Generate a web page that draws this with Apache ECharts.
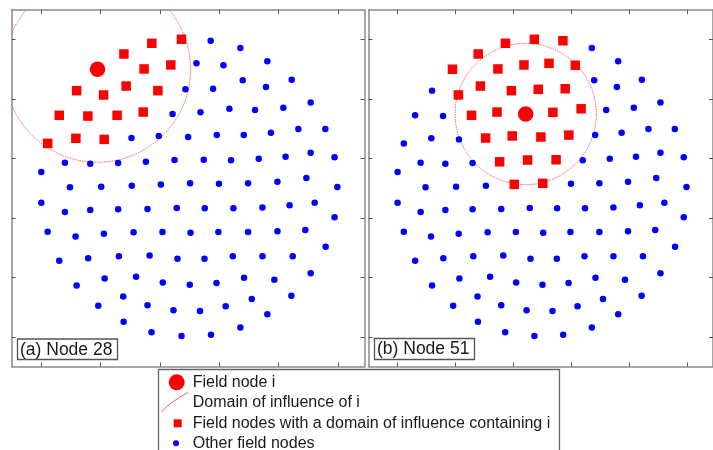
<!DOCTYPE html>
<html>
<head>
<meta charset="utf-8">
<script src="https://cdn.jsdelivr.net/npm/echarts@6/dist/echarts.min.js"></script>
<style>
html,body{margin:0;padding:0;background:#fff;}
#chart{width:713px;height:450px;}
</style>
</head>
<body>
<div id="chart"></div>
<script>
// ---- Node coordinates (same node set in both panels) ----
const nodeX = [
 -0.620,-0.054,-0.254,-0.442,-0.126,-0.306,-0.761,-0.579,-0.427,-0.213,
 -0.878,-0.685,-0.488,-0.312,-0.956,-0.766,-0.575,-0.114, 0.143, 0.343,
  0.047, 0.229, 0.525, 0.359, 0.689,-0.027, 0.159, 0.516, 0.817, 0.269,
  0.442, 0.633, 0.074, 0.734, 0.916,-0.391,-0.207,-0.009, 0.184, 0.366,
  0.549, 0.817, 0.978,-0.999,-0.840,-0.669,-0.481,-0.294,-0.101, 0.096,
  0.280, 0.467, 0.648, 0.788, 0.997,-0.806,-0.595,-0.389,-0.193, 0.004,
  0.199, 0.395, 0.593,-0.999,-0.840,-0.669,-0.481,-0.283,-0.086, 0.103,
  0.296, 0.492, 0.675, 0.844, 0.978,-0.956,-0.768,-0.577,-0.377,-0.182,
  0.007, 0.195, 0.395, 0.593, 0.781, 0.918,-0.878,-0.683,-0.476,-0.269,
 -0.081, 0.101, 0.292, 0.492, 0.696, 0.817,-0.761,-0.572,-0.360,-0.180,
  0.002, 0.182, 0.368, 0.572, 0.687,-0.615,-0.447,-0.283,-0.108, 0.071,
  0.244, 0.420, 0.525,-0.444,-0.256,-0.054, 0.145, 0.343
];
const nodeY = [
  0.801, 1.003, 0.976, 0.904, 0.830, 0.803, 0.657, 0.628, 0.688, 0.657,
  0.491, 0.486, 0.491, 0.513, 0.302, 0.336, 0.329, 0.500, 0.993, 0.944,
  0.841, 0.828, 0.855, 0.727, 0.731, 0.666, 0.670, 0.681, 0.578, 0.535,
  0.527, 0.542, 0.511, 0.399, 0.399, 0.338, 0.352, 0.345, 0.358, 0.358,
  0.374, 0.239, 0.208, 0.109, 0.172, 0.165, 0.170, 0.178, 0.190, 0.192,
  0.188, 0.199, 0.212, 0.069, 0.008, 0.006, 0.010, 0.017, 0.026, 0.033,
  0.030, 0.033, 0.044,-0.098,-0.160,-0.147,-0.142,-0.140,-0.133,-0.135,
 -0.135,-0.129,-0.115,-0.098,-0.196,-0.293,-0.324,-0.306,-0.297,-0.295,
 -0.300,-0.295,-0.295,-0.290,-0.281,-0.394,-0.488,-0.472,-0.457,-0.452,
 -0.475,-0.475,-0.457,-0.457,-0.457,-0.573,-0.654,-0.607,-0.596,-0.634,
 -0.650,-0.638,-0.603,-0.616,-0.724,-0.791,-0.728,-0.787,-0.822,-0.827,
 -0.795,-0.746,-0.849,-0.899,-0.970,-0.995,-0.987,-0.937
];

// Panel (a): Node 28
const fieldNodeA = 0;
const influencersA = [1,2,3,4,5,6,7,8,9,10,11,12,13,14,15,16];
const radiusA = 0.627;
// Panel (b): Node 51
const fieldNodeB = 17;
const influencersB = [0,1,2,3,4,5,7,8,9,12,13,18,20,21,25,26,29,32,35,36,37,38,47,48,49,58,59];
const radiusB = 0.488;

const panelTitles = ['(a) Node 28', '(b) Node 51'];
const legendLabels = ['Field node i', 'Domain of influence of i',
  'Field nodes with a domain of influence containing i', 'Other field nodes'];
const tickValues = [-1, -0.6, -0.2, 0.2, 0.6, 1];

// ---- build ----
const FONT = '"Liberation Sans", Arial, Helvetica, sans-serif';
const frameColor = '#8a8a8a';
const tickColor = '#555';

function pt(i){ return [nodeX[i], nodeY[i]]; }

const panels = [
  {field: fieldNodeA, inf: influencersA, r: radiusA},
  {field: fieldNodeB, inf: influencersB, r: radiusB}
];

const grids = [
  {left: 11.5, top: 10, width: 353, height: 356.5},
  {left: 368.5, top: 10, width: 353, height: 356.5}
];

const xAxes = [], yAxes = [], series = [];
panels.forEach(function(p, g){
  ['bottom','top'].forEach(function(pos){
    xAxes.push({
      gridIndex: g, type: 'value', position: pos, min: -1.2, max: 1.18,
      axisLine: {show: true, onZero: false, lineStyle: {color: frameColor, width: 1.5}},
      axisTick: {show: true, inside: true, length: 4, customValues: tickValues, lineStyle: {color: tickColor, width: 1}},
      axisLabel: {show: false}, splitLine: {show: false}
    });
  });
  ['left','right'].forEach(function(pos){
    yAxes.push({
      gridIndex: g, type: 'value', position: pos, min: -1.2, max: 1.2,
      axisLine: {show: true, onZero: false, lineStyle: {color: frameColor, width: 1.5}},
      axisTick: {show: true, inside: true, length: 4, customValues: tickValues, lineStyle: {color: tickColor, width: 1}},
      axisLabel: {show: false}, splitLine: {show: false}
    });
  });
  const xi = g * 2, yi = g * 2;
  const infSet = new Set(p.inf);
  const others = [];
  for (let i = 0; i < nodeX.length; i++) {
    if (i !== p.field && !infSet.has(i)) others.push(pt(i));
  }
  series.push({
    name: legendLabels[1], type: 'custom', xAxisIndex: xi, yAxisIndex: yi, z: 1,
    silent: true, animation: false,
    data: [[nodeX[p.field], nodeY[p.field], p.r]],
    renderItem: function(params, api){
      const c = api.coord([api.value(0), api.value(1)]);
      const rr = api.size([api.value(2), 0])[0];
      const cs = params.coordSys;
      return {
        type: 'circle',
        shape: {cx: c[0], cy: c[1], r: rr},
        style: {fill: 'none', stroke: '#ff5a5a', lineWidth: 1, lineDash: [1.5, 1]},
        clipPath: {type: 'rect', shape: {x: cs.x, y: cs.y, width: cs.width, height: cs.height}}
      };
    }
  });
  series.push({
    name: legendLabels[3], type: 'scatter', xAxisIndex: xi, yAxisIndex: yi, z: 2,
    symbol: 'circle', symbolSize: 6.5, itemStyle: {color: '#0000ff', opacity: 1},
    data: others, animation: false
  });
  series.push({
    name: legendLabels[2], type: 'scatter', xAxisIndex: xi, yAxisIndex: yi, z: 3,
    symbol: 'rect', symbolSize: 9.5, itemStyle: {color: '#ff0000', opacity: 1},
    data: p.inf.map(pt), animation: false
  });
  series.push({
    name: legendLabels[0], type: 'scatter', xAxisIndex: xi, yAxisIndex: yi, z: 4,
    symbol: 'circle', symbolSize: 15.5, itemStyle: {color: '#ff0000', opacity: 1},
    data: [pt(p.field)], animation: false
  });
});

const labelBoxes = [
  {x: 17.5, y: 339, w: 100, h: 20.5},
  {x: 374.5, y: 338.5, w: 100, h: 21}
];
const graphics = [];
labelBoxes.forEach(function(b, i){
  graphics.push({type: 'rect', z: 100, shape: {x: b.x, y: b.y, width: b.w, height: b.h},
    style: {fill: '#fff', stroke: '#555', lineWidth: 1.3}});
  graphics.push({type: 'text', z: 101, x: b.x + 2.5, y: b.y + b.h / 2 + 0.5,
    style: {text: panelTitles[i], font: '17.5px ' + FONT, fill: '#1a1a1a', textVerticalAlign: 'middle', verticalAlign: 'middle'}});
});
// legend box
graphics.push({type: 'rect', z: 100, shape: {x: 158.5, y: 369.5, width: 401, height: 100},
  style: {fill: '#fff', stroke: '#666', lineWidth: 1.3}});
graphics.push({type: 'circle', z: 101, shape: {cx: 176.7, cy: 382.3, r: 8}, style: {fill: '#ff0000'}});
graphics.push({type: 'bezierCurve', z: 101, shape: {x1: 161.5, y1: 412, x2: 188, y2: 392.5, cpx1: 170, cpy1: 402}, style: {stroke: '#ff6060', lineWidth: 1, fill: 'none'}});
graphics.push({type: 'rect', z: 101, shape: {x: 173.7, y: 419.3, width: 8, height: 8}, style: {fill: '#ff0000'}});
graphics.push({type: 'circle', z: 101, shape: {cx: 176, cy: 443.3, r: 3}, style: {fill: '#0000ff'}});
const legendY = [382.3, 403, 423.3, 443.5];
legendLabels.forEach(function(t, i){
  graphics.push({type: 'text', z: 101, x: 192.7, y: legendY[i],
    style: {text: t, font: '16px ' + FONT, fill: '#1a1a1a', textVerticalAlign: 'middle', verticalAlign: 'middle'}});
});

const chart = echarts.init(document.getElementById('chart'), null, {renderer: 'canvas'});
chart.setOption({
  backgroundColor: '#fff',
  animation: false,
  grid: grids,
  xAxis: xAxes,
  yAxis: yAxes,
  series: series,
  graphic: graphics
});
</script>
</body>
</html>
